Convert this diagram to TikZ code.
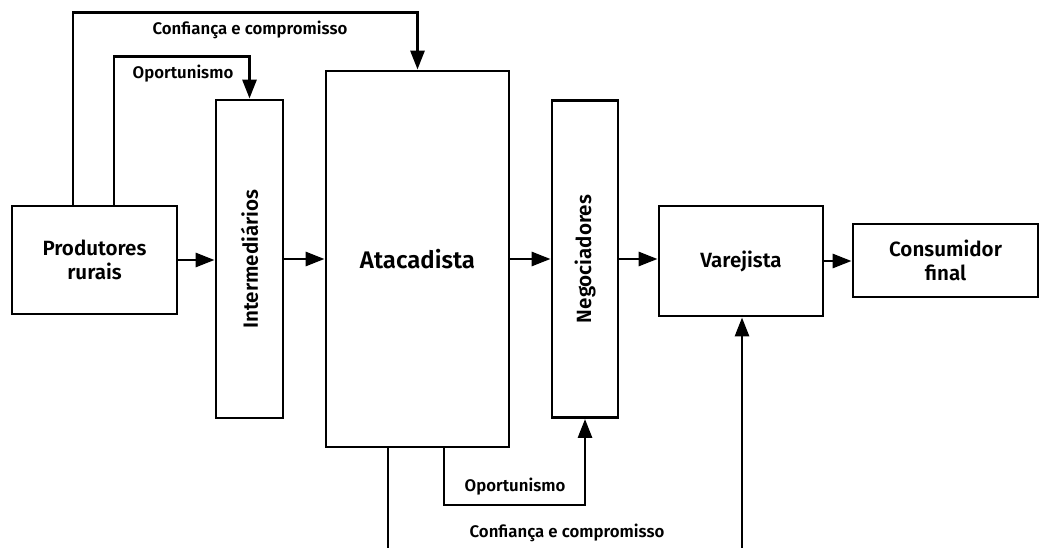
\documentclass[tikz,border=0pt]{standalone}
\usepackage{fontspec}
\setmainfont{Fira Sans}[UprightFont={* SemiBold}]
\usetikzlibrary{arrows.meta}

\newcommand{\boxfont}{\fontsize{20.6}{24}\selectfont}
\newcommand{\bigfont}{\fontsize{24}{28}\selectfont}
\newcommand{\tagfont}{\fontsize{16.8}{19}\selectfont}

\tikzset{
    box/.style={draw, line width=2.9pt, inner sep=0pt, align=center, font=\boxfont},
    wire/.style={line width=2.9pt},
    flow/.style={wire, -{Triangle[length=19pt,width=14pt]}},
    tag/.style={font=\tagfont, inner sep=0pt}
}

\begin{document}
\begin{tikzpicture}[x=1pt, y=-1pt]
    \useasboundingbox (0,0) rectangle (1040,548);

    % Chain of agents
    \node[box, minimum width=165pt, minimum height=108pt] (prod) at (94.5,260) {Produtores\\rurais};
    \node[box, minimum width=67pt, minimum height=318pt] (inter) at (249.5,259) {\rotatebox{90}{Intermediários}};
    \node[box, font=\bigfont, minimum width=183pt, minimum height=376pt] (atac) at (417.5,259) {Atacadista};
    \node[box, minimum width=66pt, minimum height=317pt] (nego) at (585,259) {\rotatebox{90}{Negociadores}};
    \node[box, minimum width=164pt, minimum height=110pt] (varej) at (741,261) {Varejista};
    \node[box, minimum width=185pt, minimum height=73pt] (cons) at (945.5,260.5) {Consumidor\\final};

    % Flow along the chain
    \draw[flow] (prod.east) -- (prod.east -| inter.west);
    \draw[flow] (inter.east) -- (inter.east -| atac.west);
    \draw[flow] (atac.east) -- (atac.east -| nego.west);
    \draw[flow] (nego.east) -- (nego.east -| varej.west);
    \draw[flow] (varej.east) -- (varej.east -| cons.west);

    % Links above the chain
    \draw[flow] ([xshift=-21.5pt]prod.north) |- ([yshift=57pt]atac.north) -- (atac.north);
    \draw[flow] ([xshift=19.5pt]prod.north) |- ([yshift=42pt]inter.north) -- (inter.north);
    \node[tag] (cfTop) at (250,30) {Confiança e compromisso};
    \node[tag] (opTop) at (183,74) {Oportunismo};

    % Links below the chain
    \draw[flow] ([xshift=26.5pt]atac.south) |- ([yshift=-86pt]nego.south) -- (nego.south);
    \node[tag] (opBot) at (515,487) {Oportunismo};
    \coordinate (cutL) at (388,548);
    \coordinate (cutR) at (742,548);
    \draw[wire] (atac.south -| cutL) -- (cutL);
    \draw[flow] (cutR) -- (varej.south -| cutR);
    \node[tag] (cfBot) at (567,533) {Confiança e compromisso};
\end{tikzpicture}
\end{document}
